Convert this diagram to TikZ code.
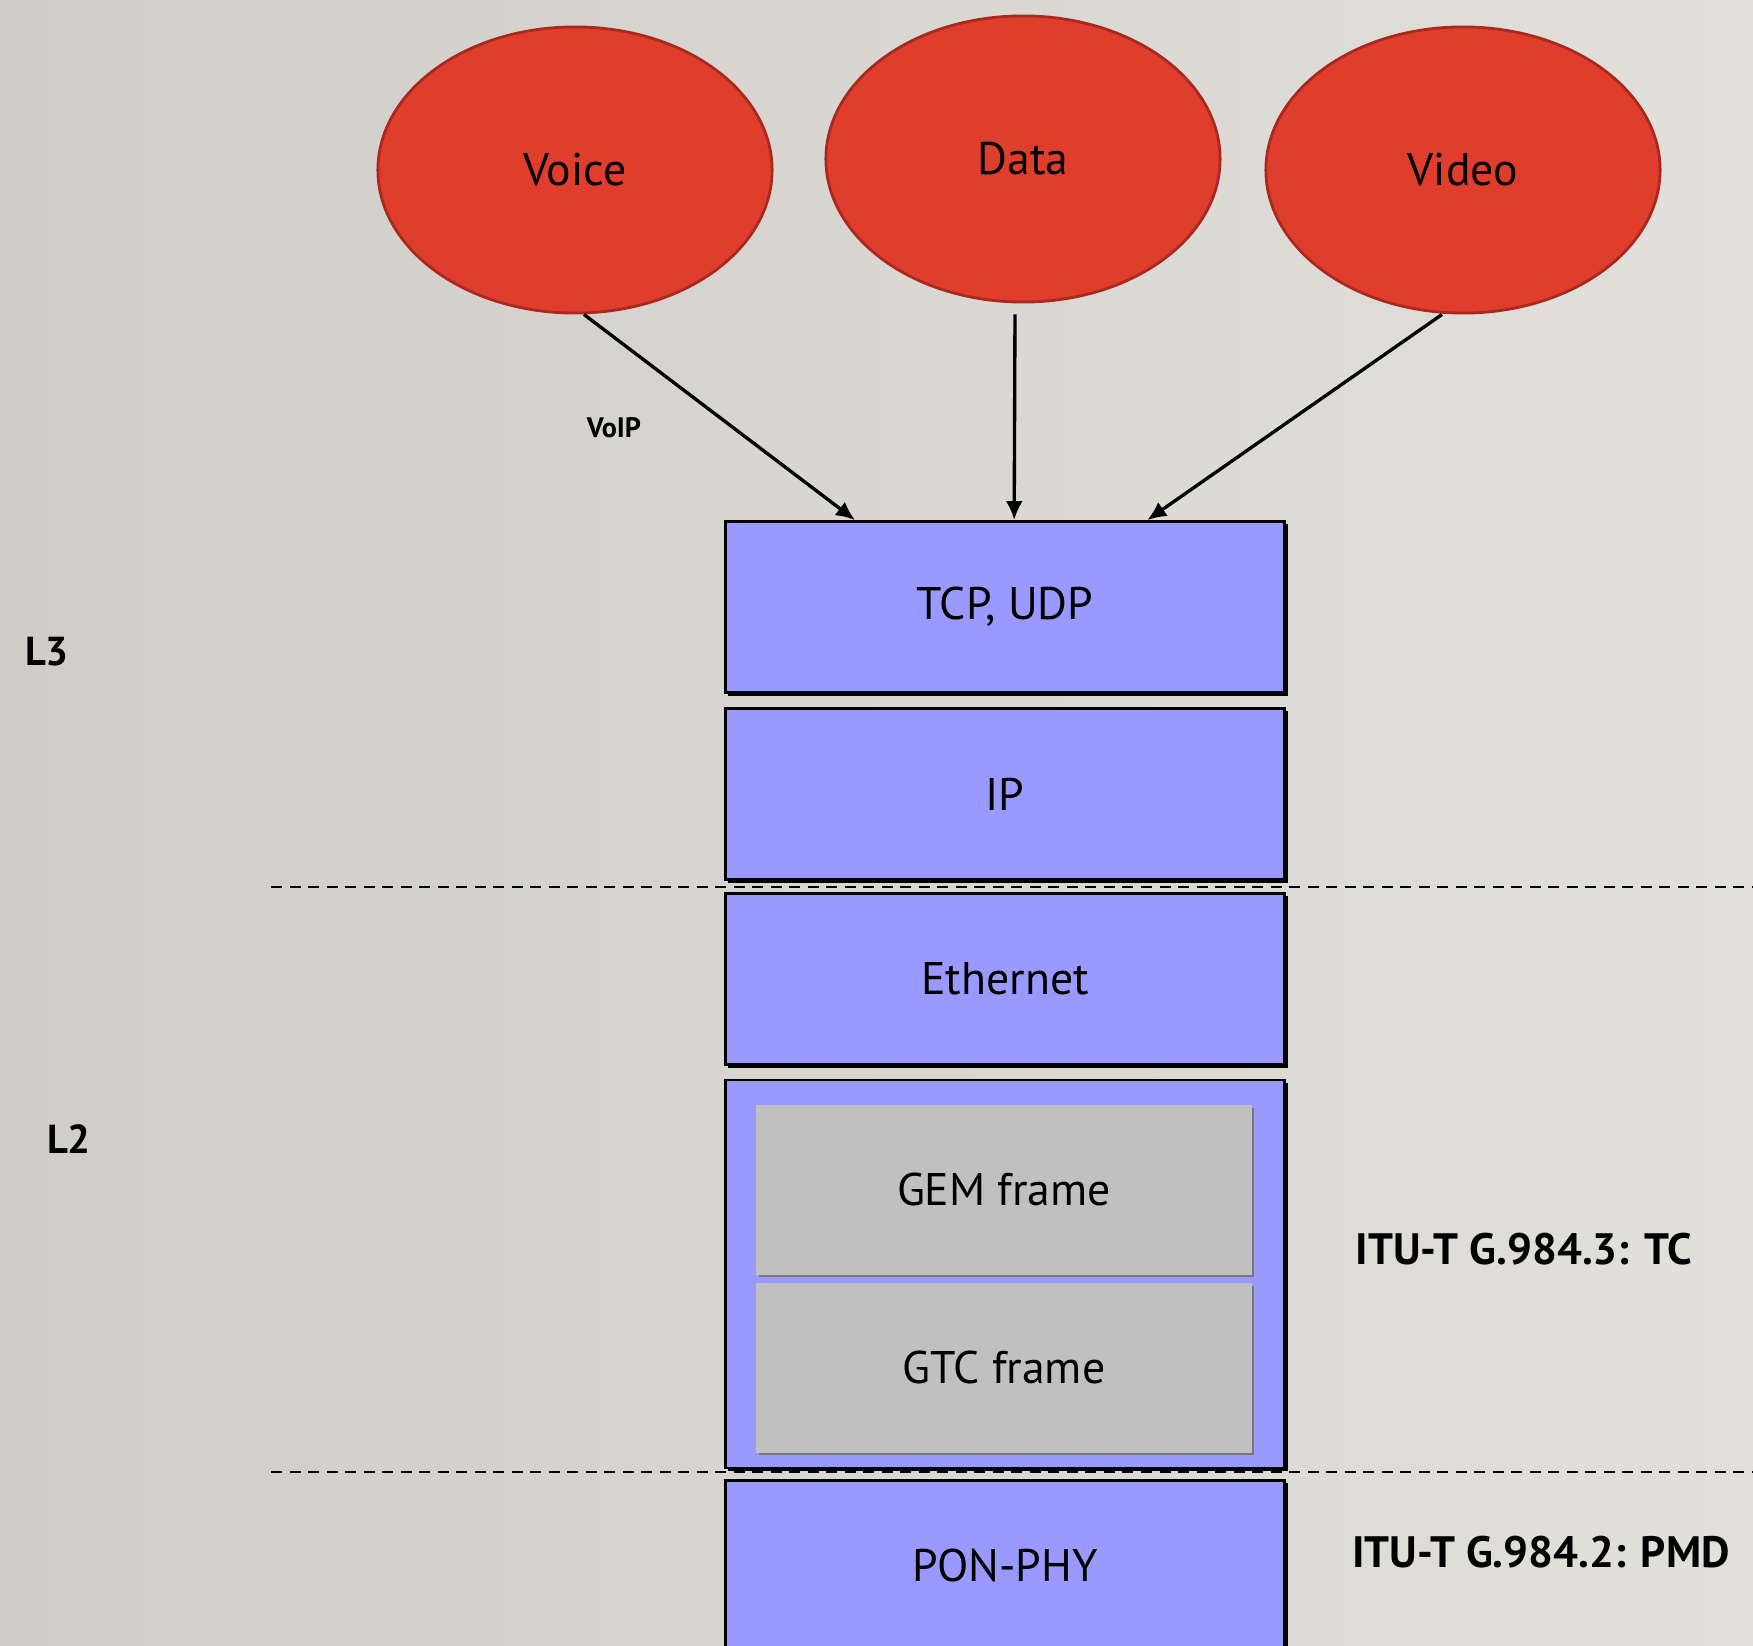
\documentclass[tikz,border=0pt]{standalone}
\usepackage{fontspec}
\setmainfont{PT Sans}
\usetikzlibrary{shapes.geometric,shadows,arrows.meta}

\definecolor{bgleft}{RGB}{208,205,200}
\definecolor{bgright}{RGB}{226,224,218}
\definecolor{svcred}{RGB}{224,62,45}
\definecolor{svcline}{RGB}{170,40,30}
\definecolor{layerblue}{RGB}{153,153,255}
\definecolor{framegray}{RGB}{192,192,192}
\definecolor{frameshade}{RGB}{118,118,118}

\tikzset{
  service/.style={ellipse, draw=svcline, line width=0.8pt, fill=svcred,
    minimum width=3.94cm, minimum height=2.86cm, font=\fontsize{13}{15}\selectfont},
  layerbox/.style={draw=black, line width=0.75pt, fill=layerblue,
    minimum width=5.59cm, minimum height=1.71cm, font=\fontsize{13}{15}\selectfont,
    drop shadow={shadow xshift=0.03cm, shadow yshift=-0.03cm, fill=black, opacity=1}},
  framebox/.style={fill=framegray, minimum width=4.95cm, minimum height=1.69cm,
    font=\fontsize{13}{15}\selectfont,
    drop shadow={shadow xshift=0.025cm, shadow yshift=-0.025cm, fill=frameshade, opacity=1}},
  flow/.style={line width=0.95pt, -{Latex[length=0.19cm,width=0.17cm]}},
  layerline/.style={line width=0.75pt, dash pattern=on 0.11cm off 0.075cm},
  sidelabel/.style={font=\bfseries\fontsize{11.5}{13}\selectfont},
  stdlabel/.style={font=\bfseries\fontsize{12.5}{14}\selectfont}
}

\begin{document}
\begin{tikzpicture}[x=0.01cm,y=-0.01cm]
\shade[left color=bgleft, right color=bgright] (0,0) rectangle (1753,1646);
\useasboundingbox (0,0) rectangle (1753,1646);

\draw[layerline] (271,887) -- (1753,887);
\draw[layerline] (271,1472) -- (1753,1472);

\node[service] at (575,170) (voice) {Voice};
\node[service] at (1023,159) (data) {Data};
\node[service] at (1463,170) (video) {Video};

\node[layerbox] at (1005,607) (tcp) {TCP, UDP};
\node[layerbox] at (1005,794) (ip) {IP};
\node[layerbox] at (1005,979) (eth) {Ethernet};
\node[layerbox, minimum height=3.88cm] at (1005,1274) (tc) {};
\node[framebox] at (1004,1190) (gem) {GEM frame};
\node[framebox] at (1004,1368) (gtc) {GTC frame};
\node[layerbox] at (1005,1566) (phy) {PON-PHY};

\draw[flow] ([xshift=0.09cm]voice.south) -- ([xshift=1.31cm]tcp.north west);
\draw[flow] ([xshift=-0.08cm,yshift=-0.11cm]data.south) -- ([xshift=2.9cm]tcp.north west);
\draw[flow] ([xshift=-0.21cm]video.south) -- ([xshift=4.23cm]tcp.north west);

\node[font=\bfseries\fontsize{8}{9}\selectfont] at (614,428) (voip) {VoIP};
\node[sidelabel] at (47,652) (l3) {L3};
\node[sidelabel] at (69,1139) (l2) {L2};
\node[stdlabel] at (1524,1249) (g3) {ITU-T G.984.3: TC};
\node[stdlabel] at (1541,1552) (g2) {ITU-T G.984.2: PMD};
\end{tikzpicture}
\end{document}
